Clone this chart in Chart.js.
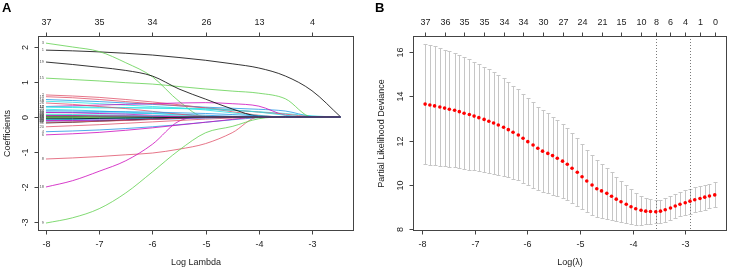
<!DOCTYPE html>
<html>
<head>
<meta charset="utf-8">
<script src="https://cdn.jsdelivr.net/npm/chart.js@4"></script>
<style>
  body { margin: 0; background: #fff; }
  #wrap { position: relative; width: 730px; height: 269px; overflow: hidden; }
  canvas { position: absolute; top: 0; }
  #cA { left: 0; }
  #cB { left: 365px; }
  .tag { position: absolute; font: bold 13px "Liberation Sans", Arial, sans-serif; }
</style>
</head>
<body>
<div id="wrap">
  <canvas id="cA" width="365" height="269"></canvas>
  <canvas id="cB" width="365" height="269"></canvas>
  <div class="tag" style="left:2px;top:0px">A</div>
  <div class="tag" style="left:375px;top:0px">B</div>
</div>
<script>
// ---- panel A: coefficient paths (values at each log lambda of coefGrid)
var coefGrid = [-8, -7.5, -7, -6.5, -6, -5.5, -5, -4.5, -4, -3.5, -3, -2.46];
var b1  = [1.91, 1.89, 1.86, 1.82, 1.77, 1.70, 1.62, 1.52, 1.40, 1.17, 0.75, 0];
var b2  = [0.63, 0.60, 0.56, 0.50, 0.43, 0.35, 0.26, 0.15, 0.05, 0, 0, 0];
var b3  = [2.11, 2.00, 1.87, 1.55, 1.15, 0.45, 0, 0, 0, 0, 0, 0];
var b4  = [-0.42, -0.40, -0.37, -0.33, -0.28, -0.22, -0.15, -0.08, -0.02, 0, 0, 0];
var b5  = [0.45, 0.42, 0.38, 0.34, 0.30, 0.26, 0.20, 0.12, 0.04, 0, 0, 0];
var b6  = [-0.51, -0.48, -0.44, -0.38, -0.31, -0.23, -0.15, -0.07, 0, 0, 0, 0];
var b7  = [0.03, 0.03, 0.02, 0.02, 0.01, 0.005, 0, 0, 0, 0, 0, 0];
var b8  = [-1.20, -1.17, -1.13, -1.08, -1.03, -0.92, -0.76, -0.45, 0, 0, 0, 0];
var b9  = [-3.03, -2.88, -2.62, -2.17, -1.57, -0.95, -0.45, -0.27, -0.05, 0, 0, 0];
var b10 = [0.50, 0.47, 0.44, 0.40, 0.36, 0.32, 0.28, 0.25, 0.22, 0.17, 0.02, 0];
var b11 = [0.28, 0.27, 0.26, 0.26, 0.25, 0.24, 0.22, 0.19, 0.15, 0.10, 0.03, 0];
var b12 = [0.30, 0.32, 0.34, 0.36, 0.38, 0.40, 0.41, 0.38, 0.31, 0.05, 0, 0];
var b13 = [0.01, 0.01, 0.01, 0.005, 0, 0, 0, 0, 0, 0, 0, 0];
var b14 = [0.58, 0.55, 0.50, 0.44, 0.38, 0.32, 0.26, 0.20, 0.14, 0.08, 0.01, 0];
var b15 = [1.11, 1.07, 1.03, 0.98, 0.94, 0.87, 0.80, 0.74, 0.68, 0.52, 0, 0];
var b16 = [0.14, 0.13, 0.12, 0.11, 0.10, 0.08, 0.05, 0.02, 0, 0, 0, 0];
var b17 = [0.30, 0.29, 0.28, 0.27, 0.26, 0.25, 0.24, 0.20, 0.14, 0.05, 0, 0];
var b18 = [-2.00, -1.82, -1.55, -1.25, -0.78, -0.12, 0, 0, 0, 0, 0, 0];
var b19 = [1.57, 1.50, 1.42, 1.33, 1.17, 0.80, 0.51, 0.23, 0.02, 0, 0, 0];
var b20 = [-0.28, -0.25, -0.22, -0.18, -0.14, -0.10, -0.06, -0.03, -0.01, 0, 0, 0];
var b21 = [0.06, 0.05, 0.04, 0.03, 0.02, 0.01, 0, 0, 0, 0, 0, 0];
var b22 = [-0.12, -0.11, -0.10, -0.09, -0.07, -0.05, -0.03, -0.01, 0, 0, 0, 0];
var b23 = [0.22, 0.20, 0.17, 0.14, 0.10, 0.06, 0.02, 0, 0, 0, 0, 0];
var b24 = [0.13, 0.12, 0.10, 0.08, 0.05, 0.02, 0, 0, 0, 0, 0, 0];
var b25 = [-0.01, -0.01, 0, 0, 0, 0, 0, 0, 0, 0, 0, 0];
var b26 = [0.40, 0.36, 0.30, 0.24, 0.16, 0.08, 0.02, 0, 0, 0, 0, 0];
var b27 = [0.02, 0.02, 0.01, 0.01, 0.005, 0, 0, 0, 0, 0, 0, 0];
var b28 = [-0.08, -0.07, -0.06, -0.05, -0.04, -0.02, 0, 0, 0, 0, 0, 0];
var b29 = [0.08, 0.07, 0.06, 0.05, 0.04, 0.03, 0.02, 0, 0, 0, 0, 0];
var b30 = [-0.10, -0.10, -0.09, -0.08, -0.06, -0.04, -0.02, 0, 0, 0, 0, 0];
var b31 = [-0.17, -0.15, -0.12, -0.09, -0.06, -0.03, 0, 0, 0, 0, 0, 0];
var b32 = [-0.15, -0.14, -0.12, -0.10, -0.07, -0.03, 0, 0, 0, 0, 0, 0];
var b33 = [-0.02, -0.02, -0.01, -0.01, -0.005, 0, 0, 0, 0, 0, 0, 0];
var b34 = [0.18, 0.17, 0.16, 0.15, 0.14, 0.12, 0.10, 0.07, 0.03, 0, 0, 0];
var b35 = [-0.06, -0.05, -0.04, -0.03, -0.02, -0.01, 0, 0, 0, 0, 0, 0];
var b36 = [0.04, 0.04, 0.03, 0.03, 0.02, 0.01, 0, 0, 0, 0, 0, 0];
var b37 = [-0.05, -0.05, -0.04, -0.03, -0.02, -0.01, 0, 0, 0, 0, 0, 0];
var coefPaths = [b1, b2, b3, b4, b5, b6, b7, b8, b9, b10, b11, b12, b13, b14, b15, b16, b17, b18, b19,
  b20, b21, b22, b23, b24, b25, b26, b27, b28, b29, b30, b31, b32, b33, b34, b35, b36, b37];
var rPalette = ["#000000", "#DF536B", "#61D04F", "#2297E6", "#28E2E5", "#CD0BBC"];

var xTicksA = [-8, -7, -6, -5, -4, -3];
var yTicksA = [-3, -2, -1, 0, 1, 2];
var topTicksA = [-8, -7, -6, -5, -4, -3];
var topLabelsA = ["37", "35", "34", "26", "13", "4"];

// ---- panel B: cross-validation curve
var logLambda = [-7.94, -7.85, -7.76, -7.66, -7.57, -7.48, -7.38, -7.29, -7.20, -7.10,
  -7.01, -6.92, -6.82, -6.73, -6.64, -6.55, -6.45, -6.36, -6.27, -6.17,
  -6.08, -5.99, -5.89, -5.80, -5.71, -5.61, -5.52, -5.43, -5.33, -5.24,
  -5.15, -5.05, -4.96, -4.87, -4.77, -4.68, -4.59, -4.49, -4.40, -4.31,
  -4.22, -4.12, -4.03, -3.94, -3.84, -3.75, -3.66, -3.56, -3.47, -3.38,
  -3.28, -3.19, -3.10, -3.00, -2.91, -2.82, -2.72, -2.63, -2.54, -2.44];
var cvMean = [13.64, 13.60, 13.56, 13.51, 13.46, 13.41, 13.36, 13.30, 13.23, 13.17,
  13.10, 13.03, 12.95, 12.87, 12.79, 12.70, 12.60, 12.49, 12.37, 12.25,
  12.10, 11.95, 11.80, 11.65, 11.52, 11.42, 11.32, 11.20, 11.07, 10.93,
  10.75, 10.57, 10.37, 10.18, 10.00, 9.83, 9.73, 9.62, 9.49, 9.36,
  9.24, 9.13, 9.02, 8.93, 8.86, 8.82, 8.80, 8.79, 8.82, 8.88,
  8.96, 9.05, 9.13, 9.20, 9.27, 9.33, 9.39, 9.45, 9.50, 9.55];
var cvSd = [2.72, 2.70, 2.68, 2.66, 2.63, 2.60, 2.57, 2.54, 2.51, 2.48,
  2.45, 2.41, 2.37, 2.33, 2.29, 2.25, 2.20, 2.15, 2.10, 2.05,
  2.00, 1.96, 1.92, 1.88, 1.84, 1.80, 1.76, 1.72, 1.68, 1.63,
  1.58, 1.53, 1.47, 1.41, 1.35, 1.28, 1.21, 1.14, 1.07, 1.00,
  0.93, 0.86, 0.79, 0.72, 0.66, 0.60, 0.55, 0.52, 0.52, 0.53,
  0.54, 0.55, 0.55, 0.56, 0.56, 0.56, 0.56, 0.56, 0.56, 0.56];
var lambdaMin = -3.56, lambda1se = -2.91;

var xTicksB = [-8, -7, -6, -5, -4, -3];
var yTicksB = [8, 10, 12, 14, 16];
var topTicksB = [-7.94, -7.57, -7.20, -6.82, -6.45, -6.08, -5.71, -5.33, -4.96, -4.59, -4.22, -3.84,
  -3.56, -3.28, -3.00, -2.72, -2.44];
var topLabelsB = ["37", "36", "35", "35", "34", "34", "30", "27", "24", "21", "15", "10",
  "8", "6", "4", "1", "0"];

var FONT = '"Liberation Sans", Arial, sans-serif';

// draws an R-style box, ticks and labels from the chart's own scales
function rAxes(o) {
  return {
    id: 'rAxes',
    afterDraw: function (chart) {
      var ctx = chart.ctx, a = chart.chartArea;
      var xs = chart.scales.x, ys = chart.scales.y;
      var L = Math.round(a.left) + 0.5, R = Math.round(a.right) + 0.5;
      var T = Math.round(a.top) + 0.5, B = Math.round(a.bottom) + 0.5;
      ctx.save();
      ctx.strokeStyle = '#444';
      ctx.lineWidth = 1;
      ctx.strokeRect(L, T, R - L, B - T);
      ctx.fillStyle = '#222';
      ctx.font = '9px ' + FONT;
      ctx.textAlign = 'center';
      ctx.textBaseline = 'middle';
      ctx.beginPath();
      o.xTicks.forEach(function (v) {
        var x = Math.round(xs.getPixelForValue(v)) + 0.5;
        ctx.moveTo(x, B); ctx.lineTo(x, B + 4);
        ctx.fillText(String(v), x, B + 14);
      });
      o.topTicks.forEach(function (v, i) {
        var x = Math.round(xs.getPixelForValue(v)) + 0.5;
        ctx.moveTo(x, T); ctx.lineTo(x, T - 4);
        ctx.fillText(o.topLabels[i], x, T - 14);
      });
      o.yTicks.forEach(function (v) {
        var y = Math.round(ys.getPixelForValue(v)) + 0.5;
        ctx.moveTo(L, y); ctx.lineTo(L - 4, y);
        ctx.save();
        ctx.translate(L - 13, y);
        ctx.rotate(-Math.PI / 2);
        ctx.fillText(String(v), 0, 0);
        ctx.restore();
      });
      ctx.stroke();
      // titles
      ctx.fillText(o.xTitle, (L + R) / 2, B + 32);
      ctx.save();
      ctx.translate(o.yTitleX, (T + B) / 2);
      ctx.rotate(-Math.PI / 2);
      ctx.fillText(o.yTitle, 0, 0);
      ctx.restore();
      ctx.restore();
    }
  };
}

// small variable numbers at the left end of each path
var pathLabels = {
  id: 'pathLabels',
  afterDatasetsDraw: function (chart) {
    var ctx = chart.ctx, xs = chart.scales.x, ys = chart.scales.y;
    ctx.save();
    ctx.fillStyle = '#555';
    ctx.font = '4px ' + FONT;
    ctx.textAlign = 'right';
    ctx.textBaseline = 'middle';
    coefPaths.forEach(function (p, i) {
      ctx.fillText(String(i + 1), xs.getPixelForValue(coefGrid[0]) - 2, ys.getPixelForValue(p[0]));
    });
    ctx.restore();
  }
};

var datasetsA = [];
for (var i = coefPaths.length - 1; i >= 0; i--) {
  datasetsA.push({
    data: coefGrid.map(function (x, j) { return { x: x, y: coefPaths[i][j] }; }),
    borderColor: rPalette[i % 6],
    borderWidth: 0.8,
    pointRadius: 0,
    cubicInterpolationMode: 'monotone',
    fill: false
  });
}

new Chart(document.getElementById('cA'), {
  type: 'line',
  data: { datasets: datasetsA },
  options: {
    responsive: false, animation: false, devicePixelRatio: 1, events: [],
    layout: { padding: { left: 38, top: 36, right: 12, bottom: 39 } },
    plugins: { legend: { display: false }, tooltip: { enabled: false } },
    scales: {
      x: { type: 'linear', display: false, min: -8.150, max: -2.229 },
      y: { type: 'linear', display: false, min: -3.229, max: 2.314 }
    }
  },
  plugins: [pathLabels, rAxes({
    xTicks: xTicksA, yTicks: yTicksA, topTicks: topTicksA, topLabels: topLabelsA,
    xTitle: 'Log Lambda', yTitle: 'Coefficients', yTitleX: 8
  })]
});

// error bars and the two vertical reference lines
var cvBars = {
  id: 'cvBars',
  beforeDatasetsDraw: function (chart) {
    var ctx = chart.ctx, xs = chart.scales.x, ys = chart.scales.y, a = chart.chartArea;
    ctx.save();
    ctx.strokeStyle = '#c6c6c6';
    ctx.lineWidth = 1;
    ctx.beginPath();
    logLambda.forEach(function (v, i) {
      var x = Math.round(xs.getPixelForValue(v)) + 0.5;
      var yu = Math.round(ys.getPixelForValue(cvMean[i] + cvSd[i])) + 0.5;
      var yl = Math.round(ys.getPixelForValue(cvMean[i] - cvSd[i])) + 0.5;
      ctx.moveTo(x, yu); ctx.lineTo(x, yl);
      ctx.moveTo(x - 2, yu); ctx.lineTo(x + 2, yu);
      ctx.moveTo(x - 2, yl); ctx.lineTo(x + 2, yl);
    });
    ctx.stroke();
    ctx.strokeStyle = '#7a7a7a';
    ctx.setLineDash([1, 2]);
    ctx.beginPath();
    [lambdaMin, lambda1se].forEach(function (v) {
      var x = Math.round(xs.getPixelForValue(v)) + 0.5;
      ctx.moveTo(x, a.top); ctx.lineTo(x, a.bottom);
    });
    ctx.stroke();
    ctx.restore();
  }
};

new Chart(document.getElementById('cB'), {
  type: 'scatter',
  data: {
    datasets: [{
      data: logLambda.map(function (x, i) { return { x: x, y: cvMean[i] }; }),
      backgroundColor: '#ff0000',
      borderWidth: 0,
      pointRadius: 1.8
    }]
  },
  options: {
    responsive: false, animation: false, devicePixelRatio: 1, events: [],
    layout: { padding: { left: 48, top: 36, right: 2, bottom: 39 } },
    plugins: { legend: { display: false }, tooltip: { enabled: false } },
    scales: {
      x: { type: 'linear', display: false, min: -8.170, max: -2.226 },
      y: { type: 'linear', display: false, min: 7.97, max: 16.707 }
    }
  },
  plugins: [cvBars, rAxes({
    xTicks: xTicksB, yTicks: yTicksB, topTicks: topTicksB, topLabels: topLabelsB,
    xTitle: 'Log(\u03bb)', yTitle: 'Partial Likelihood Deviance', yTitleX: 17
  })]
});
</script>
</body>
</html>
